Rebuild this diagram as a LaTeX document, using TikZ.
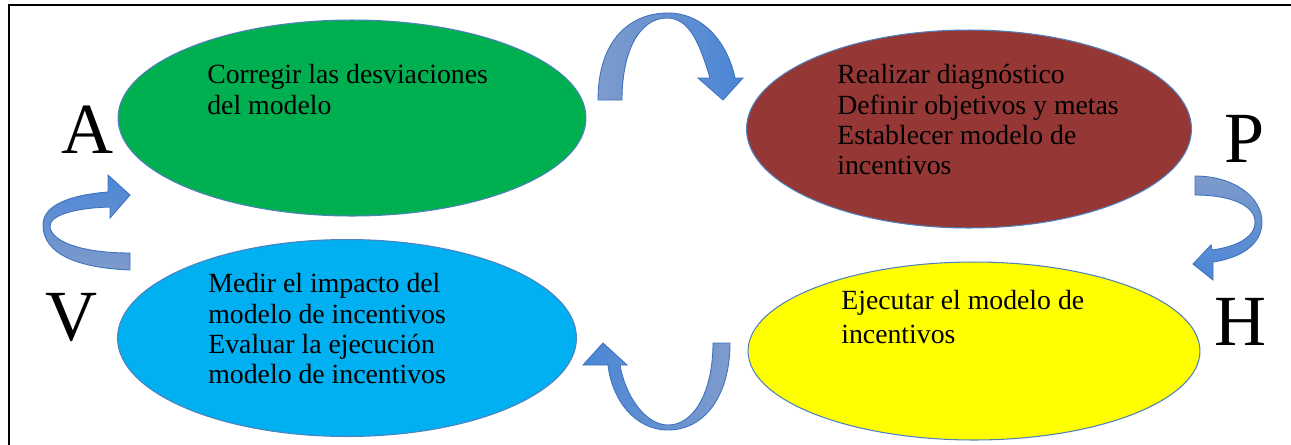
\documentclass[tikz,border=0pt]{standalone}
\usepackage{fontspec}
\setmainfont{Liberation Serif}
\usepackage{tikz}
\usetikzlibrary{positioning,shapes.geometric}

\definecolor{verdeA}{HTML}{00B050}
\definecolor{rojoP}{HTML}{953735}
\definecolor{azulV}{HTML}{00B0F0}
\definecolor{amarH}{HTML}{FFFF00}
\definecolor{borde}{HTML}{4F81BD}
\definecolor{flechaG}{HTML}{7E9BCC}
\definecolor{flechaC}{HTML}{4A86D6}
\definecolor{flechaB}{HTML}{3F72BC}

\begin{document}
\begin{tikzpicture}[
  x=0.02cm, y=-0.02cm,
  fase/.style={ellipse, draw=borde, line width=0.6pt, inner sep=0pt},
  txt/.style={font=\fontsize{15.8}{17.3}\selectfont, align=left, inner sep=0pt,
    anchor=north west, text=black},
  letra/.style={font=\fontsize{41}{41}\selectfont, inner sep=0pt, anchor=base},
  flecha/.style={draw=flechaB, line width=0.5pt}
]
\useasboundingbox (0,0) rectangle (1291,444);
\clip (0,0) rectangle (1291,444);
% Frame
\draw[line width=1.4pt] (9,5) rectangle (1330,480);
% Phases
\node[fase, fill=verdeA, minimum width=9.36cm, minimum height=3.92cm] (actuar)   at (352,118) {};
\node[fase, fill=rojoP,  minimum width=8.90cm, minimum height=3.96cm] (planear)  at (969,129) {};
\node[fase, fill=azulV,  minimum width=9.18cm, minimum height=3.94cm] (verificar) at (347,338) {};
\node[fase, fill=amarH,  minimum width=9.04cm, minimum height=3.56cm] (hacer)    at (974,351) {};
% Texts
\node[txt] (tActuar) at (207,64) {Corregir las desviaciones\\del modelo};
\node[txt] (tPlanear) at (837,64)
  {Realizar diagnóstico\\Definir objetivos y metas\\Establecer modelo de\\incentivos};
\node[txt] (tVerificar) at (208,273)
  {Medir el impacto del\\modelo de incentivos\\Evaluar la ejecución\\modelo de incentivos};
\node[txt, font=\fontsize{15.8}{19.5}\selectfont] (tHacer) at (841,290)
  {Ejecutar el modelo de\\incentivos};
% Letters
\node[letra] (lA) at (88,153)   {A};
\node[letra] (lP) at (1245,162) {P};
\node[letra] (lV) at (72,340)   {V};
\node[letra] (lH) at (1240,345) {H};
% Curved arrows
% A -> P (top)
\draw[flecha, left color=flechaG, right color=flechaC]
  (598,100) .. controls (598,40) and (630,13) .. (668,13)
  .. controls (705,13) and (728,45) .. (735,78)
  -- (743,78) -- (723,100) -- (698,78) -- (710,78)
  .. controls (700,45) and (690,18) .. (667,18)
  .. controls (640,18) and (622,50) .. (622,100) -- cycle;
% P -> H (right)
\draw[flecha, top color=flechaG, bottom color=flechaC]
  (1195,176) .. controls (1235,176) and (1262,198) .. (1262,222)
  .. controls (1262,245) and (1240,258) .. (1213,262)
  -- (1213,280) -- (1193,264) -- (1211,245) -- (1212,250)
  .. controls (1235,247) and (1255,238) .. (1255,222)
  .. controls (1255,205) and (1230,195) .. (1195,195) -- cycle;
% H -> V (bottom)
\draw[flecha, left color=flechaC, right color=flechaG]
  (730,343) .. controls (730,395) and (705,430) .. (668,430)
  .. controls (635,430) and (612,400) .. (608,365)
  -- (583,365) -- (603,343) -- (627,365) -- (620,365)
  .. controls (625,395) and (645,425) .. (668,425)
  .. controls (695,425) and (713,390) .. (713,343) -- cycle;
% V -> A (left)
\draw[flecha, top color=flechaC, bottom color=flechaG]
  (130,270) .. controls (80,268) and (43,255) .. (43,225)
  .. controls (43,205) and (70,195) .. (108,192)
  -- (108,175) -- (130,195) -- (110,218) -- (110,207)
  .. controls (75,208) and (48,215) .. (50,228)
  .. controls (55,245) and (90,253) .. (130,253) -- cycle;
\end{tikzpicture}
\end{document}
